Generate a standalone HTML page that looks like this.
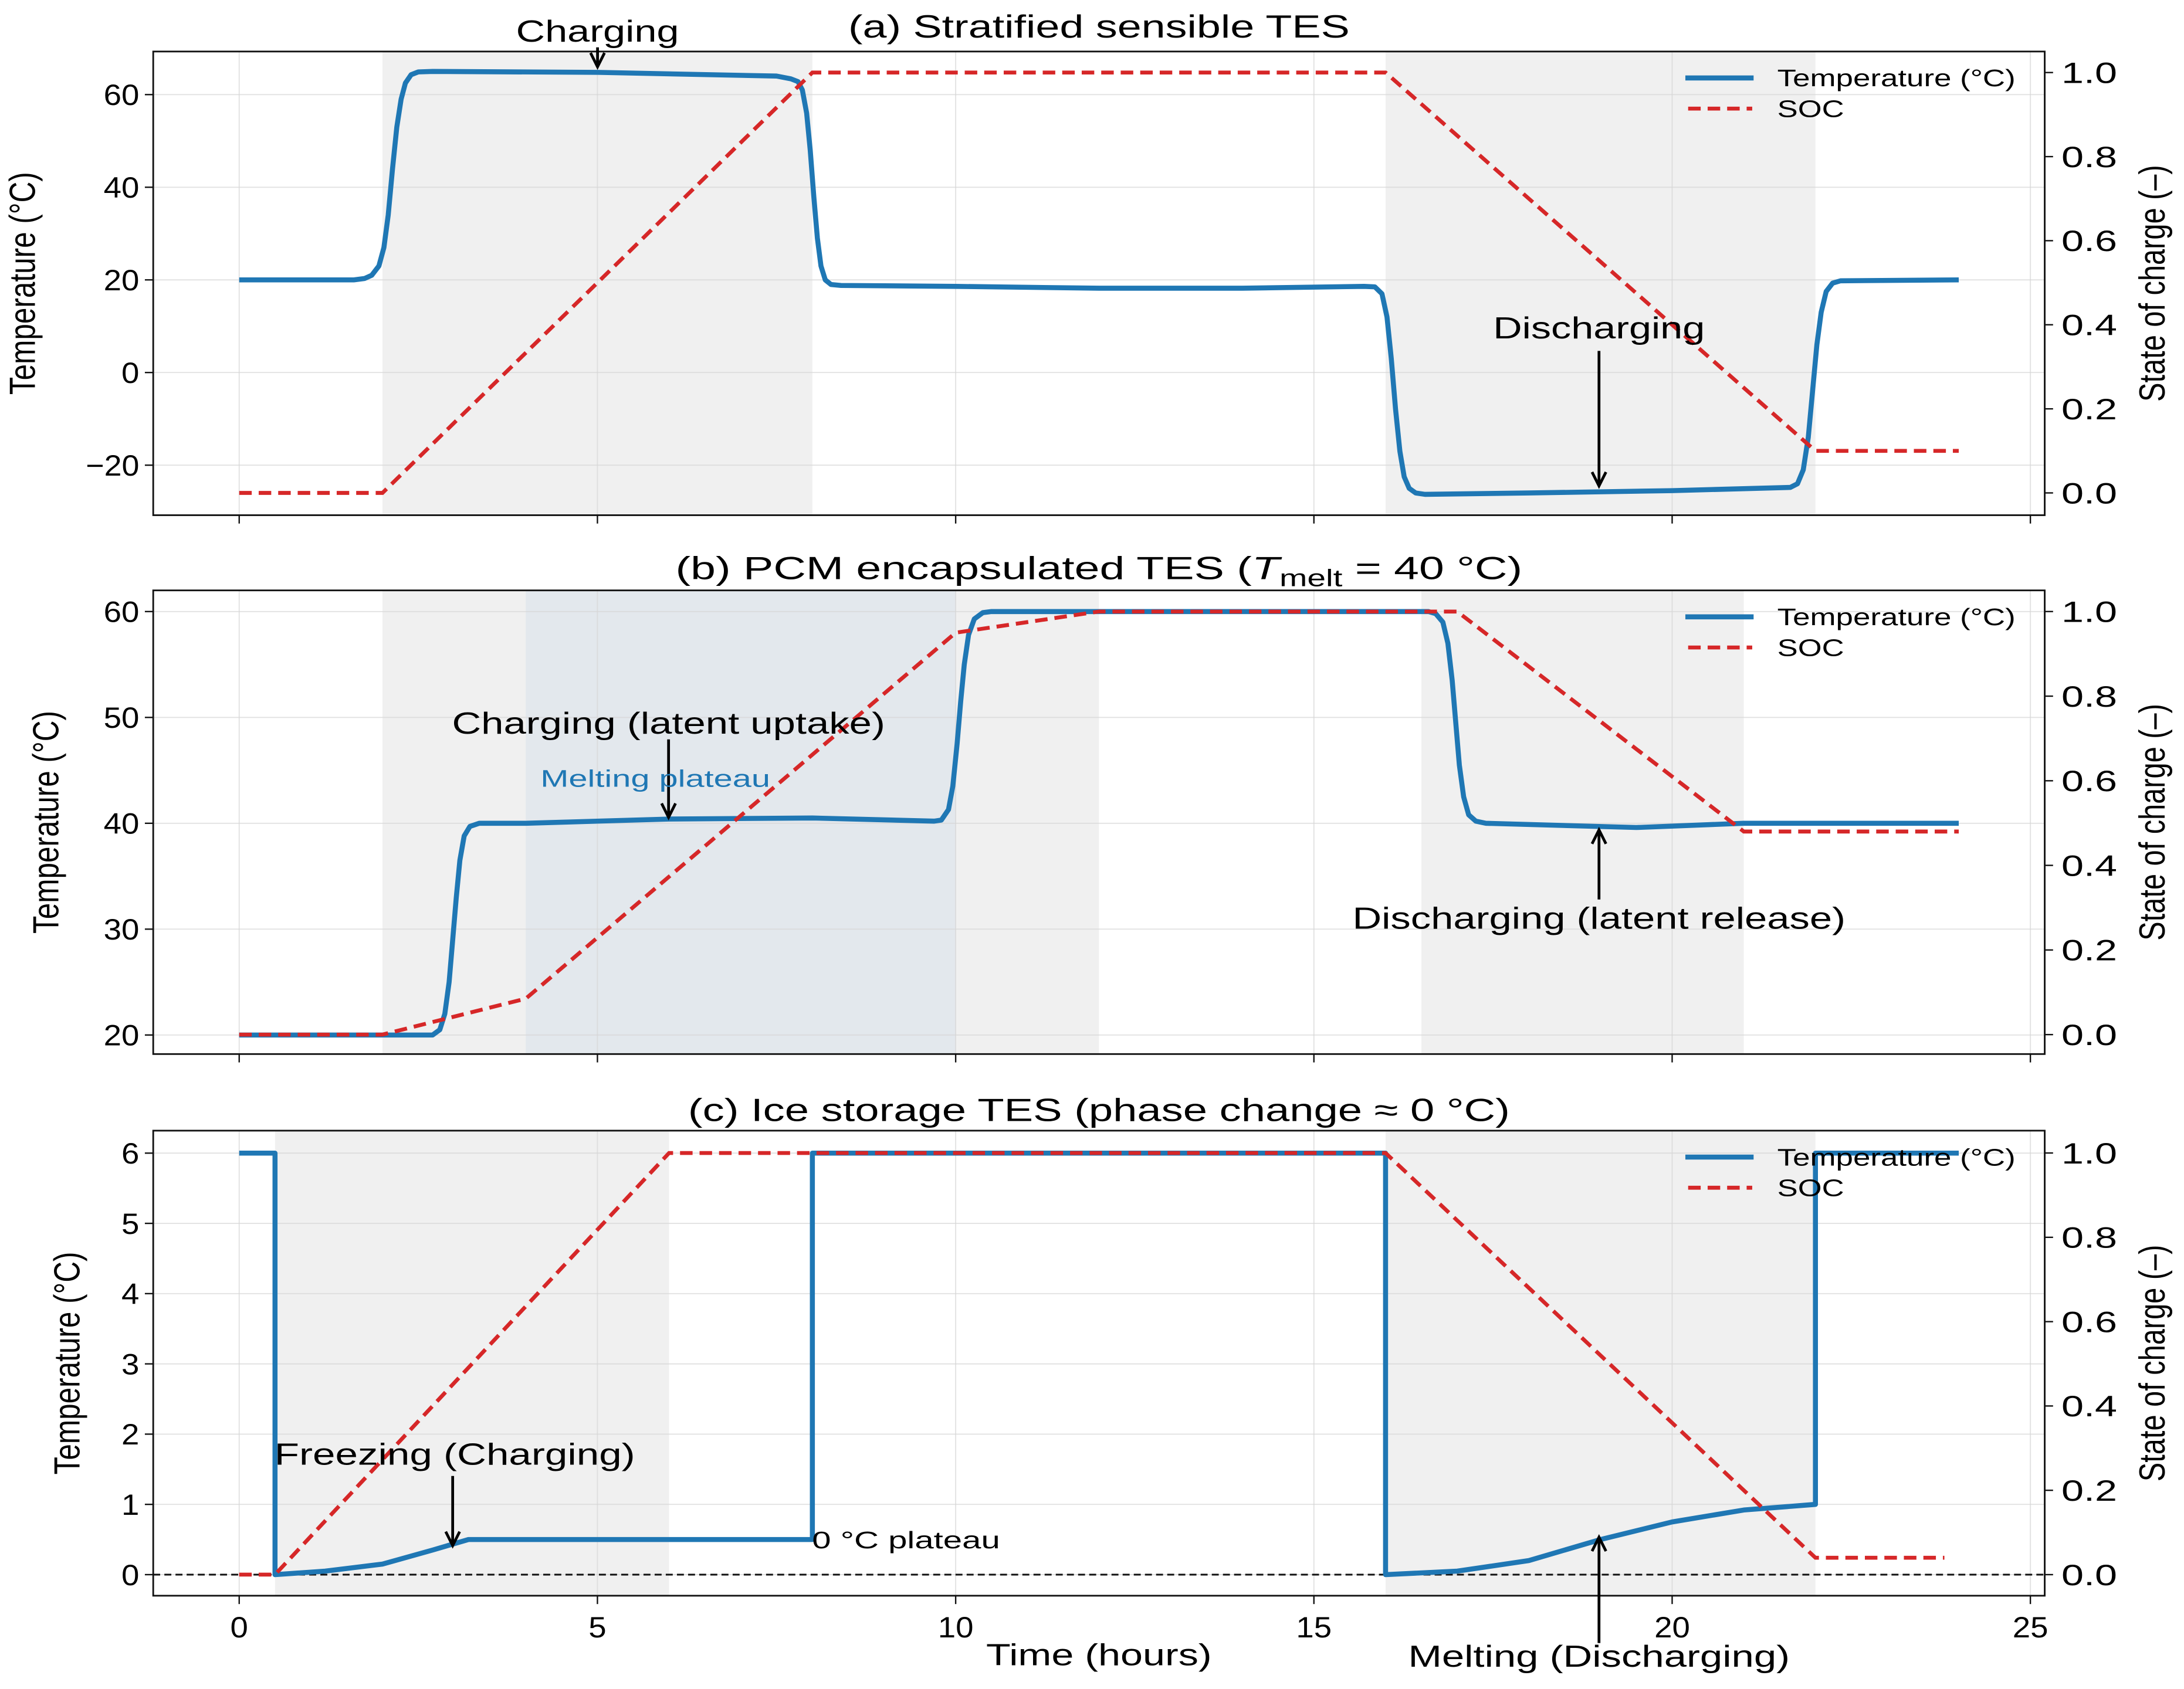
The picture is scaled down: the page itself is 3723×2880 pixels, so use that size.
<!DOCTYPE html>
<html><head><meta charset="utf-8"><style>
html,body{margin:0;padding:0;background:#fff;}
svg{display:block;}
text{font-family:"Liberation Sans",sans-serif;}
</style></head><body>
<svg id="fig" width="3723" height="2880" viewBox="0 0 1568 1213" preserveAspectRatio="none" xmlns="http://www.w3.org/2000/svg"></svg>
<script>
// ---- Data ----
const hoursTicks = [0,5,10,15,20,25];
const socTicks = [0,0.2,0.4,0.6,0.8,1.0];
// Panel (a)
const aTempTicks = [-20,0,20,40,60];
const aTime = [0,1.6,1.75,1.85,1.95,2.02,2.08,2.14,2.2,2.26,2.32,2.4,2.5,2.7,5,7.5,7.7,7.8,7.86,7.92,7.97,8.02,8.07,8.12,8.18,8.26,8.4,10,12,14,15.7,15.85,15.95,16.02,16.08,16.14,16.2,16.26,16.33,16.42,16.55,18,20,21.65,21.75,21.83,21.9,21.96,22.02,22.08,22.15,22.24,22.35,24];
const aTemp = [20,20,20.3,21,23,27,34,44,53,59,62.5,64.3,64.9,65,64.8,64,63.4,62.8,61,56,48,38,29,23,20,19,18.8,18.6,18.2,18.2,18.6,18.5,17,12,3,-8,-17,-22.5,-25,-26,-26.3,-26,-25.5,-24.8,-24,-21,-14,-4,6,13,17.5,19.3,19.8,20];
const aSocTime = [0,2,8,16,22,24];
const aSoc = [0,0,1,1,0.1,0.1];
const aShadeStart = [2,16];
const aShadeEnd = [8,22];
// Panel (b)
const bTempTicks = [20,30,40,50,60];
const bTime = [0,2.7,2.8,2.87,2.93,2.98,3.03,3.08,3.14,3.22,3.35,4,6,8,9.7,9.8,9.9,9.96,10.02,10.07,10.12,10.18,10.26,10.38,10.5,12,16.6,16.7,16.8,16.87,16.93,16.98,17.03,17.09,17.16,17.26,17.4,19.5,21,24];
const bTemp = [20,20,20.5,22,25,29,33,36.5,38.8,39.7,40,40,40.4,40.5,40.2,40.3,41.3,43.5,47.5,51.5,55,57.8,59.3,59.9,60,60,60,59.8,59,57,53.5,49.5,45.5,42.5,40.8,40.2,40,39.6,40,40];
const bSocTime = [0,2,4,10,12,17,21,24];
const bSoc = [0,0,0.085,0.95,1,1,0.48,0.48];
const bShadeStart = [2,4,16.5];
const bShadeEnd = [12,10,21];
// Panel (c)
const cTempTicks = [0,1,2,3,4,5,6];
const cTime = [0,0.5,0.5,1.2,2,2.7,3.2,8,8,16,16,17,18,19,20,21,22,22,24];
const cTemp = [6,6,0,0.05,0.15,0.35,0.5,0.5,6,6,0,0.05,0.2,0.5,0.75,0.92,1.0,6,6];
const cSocTime = [0,0.5,6,16,22,23.8];
const cSoc = [0,0,1,1,0.04,0.04];
const cShadeStart = [0.5,16];
const cShadeEnd = [6,22];

// ---- Drawing ----
const NS = "http://www.w3.org/2000/svg";
const svg = document.getElementById('fig');
function mk(tag, attrs, parent, txt){
  const e = document.createElementNS(NS, tag);
  for (const k in attrs) e.setAttribute(k, attrs[k]);
  if (txt !== undefined) e.textContent = txt;
  (parent||svg).appendChild(e);
  return e;
}
const L = 110, R = 1468;
const xMin = -1.2, xMax = 25.2;
function xs(h){ return L + (h - xMin) / (xMax - xMin) * (R - L); }
const CW = 12.8;

function panel(cfg){
  const g = mk('g', {});
  
  
  const T = cfg.top, B = cfg.bottom;
  const ys = v => B - (v - cfg.yMin) / (cfg.yMax - cfg.yMin) * (B - T);
  const ys2 = v => B - (v - cfg.sMin) / (cfg.sMax - cfg.sMin) * (B - T);
  for (let i=0;i<cfg.shS.length;i++){
    const r = mk('rect', {x:xs(cfg.shS[i]), y:T, width:xs(cfg.shE[i])-xs(cfg.shS[i]), height:B-T, fill:cfg.shC[i]}, g);
    
    
  }
  hoursTicks.forEach(h => { if (xs(h) < R) mk('line', {x1:xs(h), x2:xs(h), y1:T, y2:B, stroke:'#d6d6d6', 'stroke-width':0.8, 'stroke-opacity':0.7}, g); });
  cfg.yTicks.forEach(v => mk('line', {x1:L, x2:R, y1:ys(v), y2:ys(v), stroke:'#d6d6d6', 'stroke-width':0.8, 'stroke-opacity':0.7}, g));
  if (cfg.zeroLine){
    const zl = mk('line', {x1:L, x2:R, y1:ys(0), y2:ys(0), stroke:'#111', 'stroke-width':1.3, 'stroke-dasharray':'5,3'}, g);
    
    
  }
  const tp = mk('polyline', {points: cfg.t.map((h,i)=>xs(h)+','+ys(cfg.temp[i])).join(' '), fill:'none', stroke:'#1f77b4', 'stroke-width':3.6, 'stroke-linejoin':'round'}, g);
  
  
  const sp = mk('polyline', {points: cfg.st.map((h,i)=>xs(h)+','+ys2(cfg.soc[i])).join(' '), fill:'none', stroke:'#d62728', 'stroke-width':2.8, 'stroke-dasharray':'9,5'}, g);
  
  
  mk('rect', {x:L, y:T, width:R-L, height:B-T, fill:'none', stroke:'#111', 'stroke-width':1.2}, g);
  hoursTicks.forEach(h => {
    mk('line', {x1:xs(h), x2:xs(h), y1:B, y2:B+6, stroke:'#111', 'stroke-width':1}, g);
    if (cfg.xLabels){
      const s = String(h);
      const t = mk('text', {x:xs(h), y:B+30, 'font-size':21, 'text-anchor':'middle', textLength:s.length*CW, lengthAdjust:'spacingAndGlyphs'}, g, s);
      
      
    }
  });
  cfg.yTicks.forEach(v => {
    mk('line', {x1:L-6, x2:L, y1:ys(v), y2:ys(v), stroke:'#111', 'stroke-width':1}, g);
    const s = v<0 ? '\u2212'+Math.abs(v) : String(v);
    const t = mk('text', {x:L-10, y:ys(v)+7.5, 'font-size':21, 'text-anchor':'end', textLength:s.length*CW, lengthAdjust:'spacingAndGlyphs'}, g, s);
    
    
  });
  socTicks.forEach(v => {
    mk('line', {x1:R, x2:R+6, y1:ys2(v), y2:ys2(v), stroke:'#111', 'stroke-width':1}, g);
    const t = mk('text', {x:R+12, y:ys2(v)+7.5, 'font-size':21, textLength:40, lengthAdjust:'spacingAndGlyphs'}, g, v.toFixed(1));
    
    
  });
  const my = (T+B)/2;
  const yl = mk('text', {x:cfg.ylx, y:my, 'font-size':26, 'text-anchor':'middle', transform:'rotate(-90 '+cfg.ylx+' '+my+')', textLength:160, lengthAdjust:'spacingAndGlyphs'}, g, 'Temperature (\u00B0C)');
  
  
  const yr = mk('text', {x:1554, y:my, 'font-size':26, 'text-anchor':'middle', transform:'rotate(-90 1554 '+my+')', textLength:170, lengthAdjust:'spacingAndGlyphs'}, g, 'State of charge (\u2013)');
  
  
  const lg = mk('g', {}, g);
  
  
  mk('line', {x1:1210, x2:1259, y1:T+19, y2:T+19, stroke:'#1f77b4', 'stroke-width':3.6}, lg);
  mk('text', {x:1276, y:T+25, 'font-size':17, textLength:171, lengthAdjust:'spacingAndGlyphs'}, lg, 'Temperature (\u00B0C)');
  mk('line', {x1:1212, x2:1258, y1:T+41, y2:T+41, stroke:'#d62728', 'stroke-width':2.8, 'stroke-dasharray':'9,5'}, lg);
  mk('text', {x:1276, y:T+47, 'font-size':17, textLength:48, lengthAdjust:'spacingAndGlyphs'}, lg, 'SOC');
  return g;
}

function arrow(x, y1, y2, name){
  const g = mk('g', {});
  
  
  mk('line', {x1:x, x2:x, y1:y1, y2:y2, stroke:'#000', 'stroke-width':2}, g);
  const d = y2 > y1 ? 1 : -1;
  mk('polyline', {points:(x-5)+','+(y2-10*d)+' '+x+','+y2+' '+(x+5)+','+(y2-10*d), fill:'none', stroke:'#000', 'stroke-width':2}, g);
}
function label(x, y, s, size, name, width, anchor, color){
  const a = {x:x, y:y, 'font-size':size, 'text-anchor':anchor||'middle', fill:color||'#000'};
  if (width) { a.textLength = width; a.lengthAdjust = 'spacingAndGlyphs'; }
  const t = mk('text', a, svg, s);
  
  
  return t;
}

panel({name:'panel-a', top:37, bottom:370, yMin:-30.8, yMax:69.3, sMin:-0.053, sMax:1.05, yTicks:aTempTicks,
  t:aTime, temp:aTemp, st:aSocTime, soc:aSoc, shS:aShadeStart, shE:aShadeEnd, shC:['#f0f0f0','#f0f0f0'], ylx:25});
panel({name:'panel-b', top:424, bottom:757, yMin:18.2, yMax:62, sMin:-0.046, sMax:1.05, yTicks:bTempTicks,
  t:bTime, temp:bTemp, st:bSocTime, soc:bSoc, shS:bShadeStart, shE:bShadeEnd, shC:['#f0f0f0','#e3e8ed','#f0f0f0'], ylx:42});
panel({name:'panel-c', top:812, bottom:1146, yMin:-0.3, yMax:6.32, sMin:-0.05, sMax:1.053, yTicks:cTempTicks,
  t:cTime, temp:cTemp, st:cSocTime, soc:cSoc, shS:cShadeStart, shE:cShadeEnd, shC:['#f0f0f0','#f0f0f0'], ylx:57, xLabels:true, zeroLine:true});

label(789, 27, '(a) Stratified sensible TES', 23, 'title-a', 360);
const tb = mk('text', {x:789, y:416, 'font-size':23, 'text-anchor':'middle', textLength:608, lengthAdjust:'spacingAndGlyphs'}, svg);


tb.innerHTML = '(b) PCM encapsulated TES (<tspan font-style="italic">T</tspan><tspan font-size="17" dy="5">melt</tspan><tspan dy="-5"> = 40 \u00B0C)</tspan>';
label(789, 805, '(c) Ice storage TES (phase change \u2248 0 \u00B0C)', 23, 'title-c', 590);
label(789, 1196, 'Time (hours)', 22, 'x-axis-title', 162);

label(429, 30, 'Charging', 22, 'annotation-charging', 117);
arrow(429, 34, 48, 'arrow-charging');
label(1148, 243, 'Discharging', 22, 'annotation-discharging', 152);
arrow(1148, 252, 349, 'arrow-discharging');
label(480, 527, 'Charging (latent uptake)', 22, 'annotation-latent-uptake', 311);
arrow(480, 531, 587, 'arrow-latent-uptake');
label(388, 565, 'Melting plateau', 17, 'annotation-melting-plateau', 165, 'start', '#1f77b4');
label(1148, 667, 'Discharging (latent release)', 22, 'annotation-latent-release', 354);
arrow(1148, 646, 596, 'arrow-latent-release');
label(197, 1052, 'Freezing (Charging)', 22, 'annotation-freezing', 259, 'start');
arrow(325, 1060, 1110, 'arrow-freezing');
label(583, 1112, '0 \u00B0C plateau', 17, 'annotation-zero-plateau', 135, 'start');
label(1148, 1197, 'Melting (Discharging)', 22, 'annotation-melting', 274);
arrow(1148, 1180, 1104, 'arrow-melting');
</script>
</body></html>
